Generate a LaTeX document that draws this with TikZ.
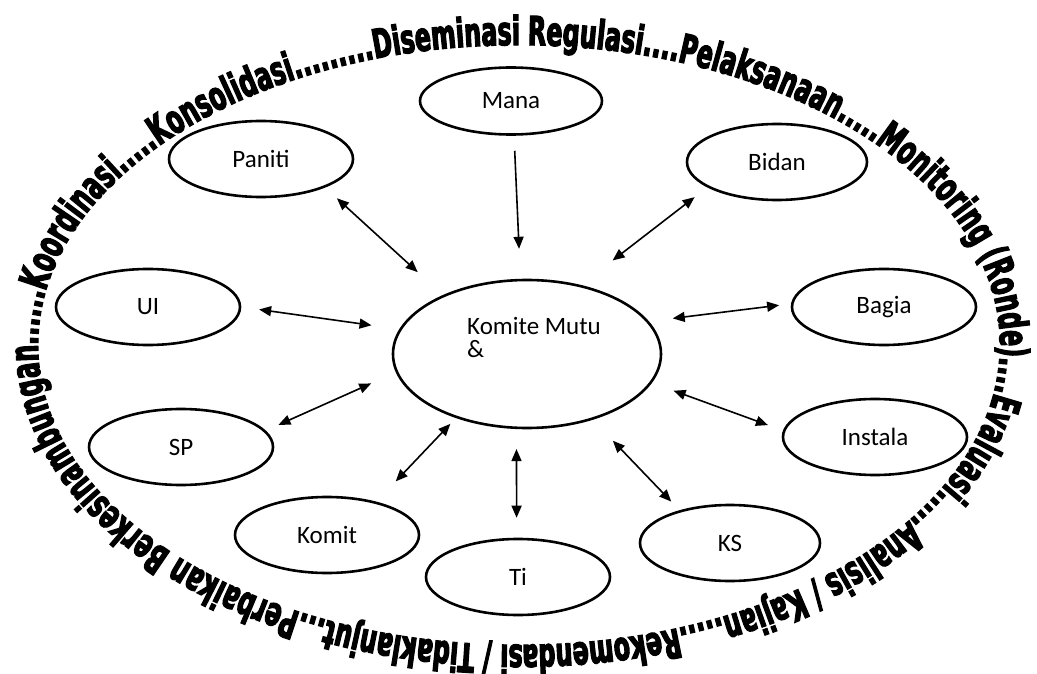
\documentclass[tikz,border=0pt]{standalone}
\usepackage{fontspec}
\usepackage{tikz}
\usetikzlibrary{shapes.geometric,arrows.meta,decorations.text}
\setmainfont{Carlito}
\newfontfamily\ringfont[FakeStretch=0.59, FakeBold=3]{DejaVu Sans}

\begin{document}
\begin{tikzpicture}[x=1pt, y=1pt, >={Triangle[length=12pt,width=10pt]},
  main/.style = {draw, ellipse, line width=2.6pt, inner sep=0pt, minimum width=184pt, minimum height=76pt, font=\fontsize{25}{26}\selectfont},
  link/.style 2 args = {line width=1.6pt, shorten <=#1, shorten >=#2}]
\useasboundingbox (0,0) rectangle (1037,-674);
% text round the whole picture
\path[decorate, decoration={text along path, text align={fit to path},
  text={|\ringfont\bfseries\fontsize{40}{40}\selectfont|......Koordinasi.....Konsolidasi.........Diseminasi Regulasi....Pelaksanaan.....Monitoring (Ronde)....Evaluasi.....Analisis / Kajian.....Rekomendasi / Tidaklanjut...Perbaikan Berkesinambungan}}]
  (38,-345) arc[start angle=180, end angle=-180, x radius=481, y radius=300];
\node[main, minimum width=268pt, minimum height=148pt] (1) at (527,-354) {};
\node (12) [align=left, anchor=west, inner sep=0pt, font=\fontsize{25}{23}\selectfont] at (467,-337) {Komite Mutu\\\&};
\node[main, minimum width=182pt, minimum height=67pt] (2) at (511,-101) {Mana};
\node[main] (3) at (261,-159) {Paniti};
\node[main, minimum width=180pt] (4) at (777,-162) {Bidan};
\node[main] (5) at (148,-307) {UI};
\node[main] (6) at (884,-307) {Bagia};
\node[main] (7) at (181,-447) {SP};
\node[main] (8) at (875,-437) {Instala};
\node[main] (9) at (327,-535) {Komit};
\node[main] (10) at (518,-577) {Ti};
\node[main, minimum width=180pt] (11) at (730,-543) {KS};
\draw[->, link={15pt}{30pt}] (2.-85) -- (1.95);
\draw[<->, link={16pt}{34pt}] (3.-24) -- (1.145);
\draw[<->, link={16pt}{40pt}] (4.200) -- (1.52);
\draw[<->, link={18pt}{28pt}] (5.0) -- (1.169);
\draw[<->, link={24pt}{12pt}] (1.15) -- (6.178);
\draw[<->, link={14pt}{27pt}] (7.11) -- (1.-172);
\draw[<->, link={23pt}{16pt}] (1.-13) -- (8.176);
\draw[<->, link={28pt}{8pt}] (9.34) -- (1.-138);
\draw[<->, link={20pt}{20pt}] (1.-98) -- (10.92);
\draw[<->, link={29pt}{12pt}] (1.-45) -- (11.147);
\end{tikzpicture}
\end{document}
